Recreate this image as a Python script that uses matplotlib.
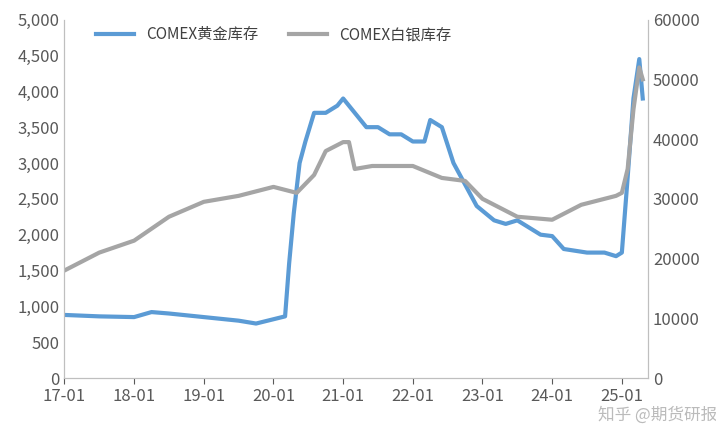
import numpy as np
import matplotlib.pyplot as plt

plt.rcParams['font.family'] = ['Noto Sans CJK SC', 'DejaVu Sans']

# months since 2017-01
gold_t = [0, 6, 12, 15, 18, 24, 30, 33, 36, 38, 38.7, 39.5, 40.5, 41.5, 43, 45, 47, 48, 50, 52, 54, 56, 58, 60, 62, 63, 65, 67, 69, 71, 74, 76, 78, 80, 82, 84, 86, 90, 93, 95, 96, 97, 98, 99, 99.6]
gold = [880, 860, 850, 920, 900, 850, 800, 760, 820, 860, 1600, 2300, 3000, 3300, 3700, 3700, 3800, 3900, 3700, 3500, 3500, 3400, 3400, 3300, 3300, 3600, 3500, 3000, 2700, 2400, 2200, 2150, 2200, 2100, 2000, 1980, 1800, 1750, 1750, 1700, 1750, 2800, 3900, 4450, 3900]

silver_t = [0, 6, 12, 18, 24, 30, 36, 40, 43, 45, 48, 49, 50, 53, 60, 65, 69, 72, 76, 78, 84, 89, 95, 96, 97, 98, 99, 99.6]
silver = [18000, 21000, 23000, 27000, 29500, 30500, 32000, 31000, 34000, 38000, 39500, 39500, 35000, 35500, 35500, 33500, 33000, 30000, 28000, 27000, 26500, 29000, 30500, 31000, 35000, 45000, 52000, 50000]

xticks = [0, 12, 24, 36, 48, 60, 72, 84, 96]
xlabels = ['17-01', '18-01', '19-01', '20-01', '21-01', '22-01', '23-01', '24-01', '25-01']

fig, ax = plt.subplots(figsize=(7.16, 4.37), dpi=100)
ax2 = ax.twinx()
l1, = ax.plot(gold_t, gold, color='#5B9BD5', lw=3, label='COMEX黄金库存')
l2, = ax2.plot(silver_t, silver, color='#A5A5A5', lw=3, label='COMEX白银库存')
ax.set_ylim(0, 5000)
ax2.set_ylim(0, 60000)
ax.set_yticks(range(0, 5001, 500))
ax.set_yticklabels([f'{v:,}' for v in range(0, 5001, 500)])
ax2.set_yticks(range(0, 60001, 10000))
ax.set_xlim(0, 100.5)
ax.set_xticks(xticks)
ax.set_xticklabels(xlabels)
for a in (ax, ax2):
    a.tick_params(labelsize=12, colors='#595959', length=0)
    a.spines['top'].set_visible(False)
    for s in ['left', 'right', 'bottom']:
        a.spines[s].set_color('#BFBFBF')
ax.tick_params(axis='x', length=4, direction='out')
ax.legend(handles=[l1, l2], loc='upper left', bbox_to_anchor=(0.03, 1.02), ncol=2, frameon=False,
          fontsize=11, handlelength=2.5, labelcolor='#404040')
fig.text(0.835, 0.04, '知乎 @期货研报', fontsize=12, color='#aaaaaa', alpha=0.8)
plt.subplots_adjust(left=0.09, right=0.905, top=0.955, bottom=0.135)
fig.savefig('out.png')
